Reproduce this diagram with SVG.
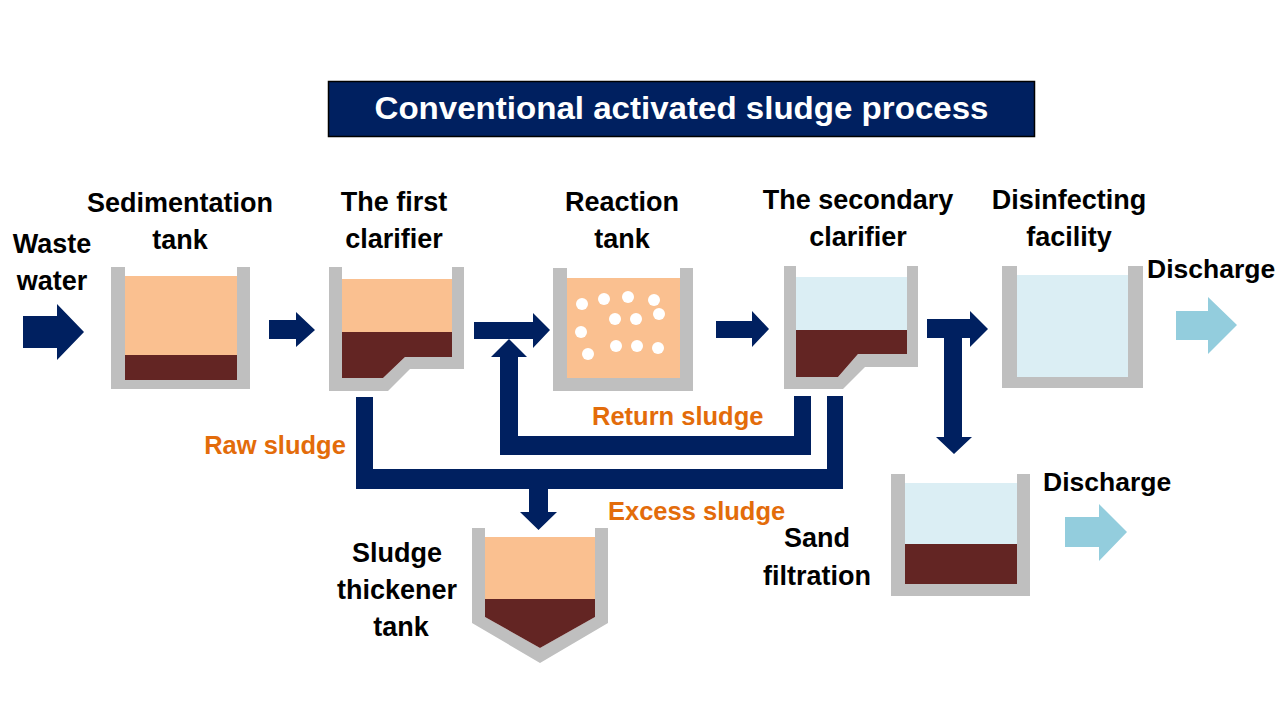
<svg xmlns="http://www.w3.org/2000/svg" width="1280" height="720" viewBox="0 0 1280 720">
<style>
.lbl{font-family:"Liberation Sans",Arial,sans-serif;font-weight:bold;font-size:27px;fill:#000;text-anchor:middle}
.blk{font-family:"Liberation Sans",Arial,sans-serif;font-weight:bold;font-size:26.5px;fill:#000}
.org{font-family:"Liberation Sans",Arial,sans-serif;font-weight:bold;font-size:25.5px;fill:#e36c0a}
.wall{fill:#bfbfbf}
.peach{fill:#fac090}
.mud{fill:#632523}
.water{fill:#dbeef4}
.navy{fill:#002060}
.out{fill:#93cddd}
.bub{fill:#fff}
</style>
<rect width="1280" height="720" fill="#fff"/>
<g id="title">
<rect x="328.5" y="81.5" width="706" height="55" fill="#002060" stroke="#000" stroke-width="1.5"/>
<text x="681.5" y="119" style="font-family:'Liberation Sans',Arial,sans-serif;font-weight:bold;font-size:31px;fill:#fff" text-anchor="middle" textLength="614" lengthAdjust="spacingAndGlyphs">Conventional activated sludge process</text>
</g>
<g id="waste-water">
<text class="lbl" x="52" y="253">Waste</text>
<text class="lbl" x="52" y="290">water</text>
</g>
<g id="sedimentation-tank">
<text class="lbl" x="180" y="212">Sedimentation</text>
<text class="lbl" x="180" y="249">tank</text>
<path class="wall" d="M111,267H125V380H237V267H250V389H111Z"/>
<rect class="peach" x="125" y="276" width="112" height="79"/>
<rect class="mud" x="125" y="355" width="112" height="25"/>
</g>
<g id="first-clarifier">
<text class="lbl" x="394" y="211">The first</text>
<text class="lbl" x="394" y="248">clarifier</text>
<path class="wall" d="M329,267H342V378H383L405,357H452V267H464V369H410L388,391H329Z"/>
<rect class="peach" x="342" y="279" width="110" height="53"/>
<path class="mud" d="M342,332H452V357H405L383,378H342Z"/>
</g>
<g id="reaction-tank">
<text class="lbl" x="622" y="211">Reaction</text>
<text class="lbl" x="622" y="248">tank</text>
<path class="wall" d="M553,268H567V378H680V268H693V391H553Z"/>
<rect class="peach" x="567" y="278" width="113" height="100"/>
<circle class="bub" cx="582" cy="304" r="6"/>
<circle class="bub" cx="604" cy="299" r="6"/>
<circle class="bub" cx="628" cy="297" r="6"/>
<circle class="bub" cx="654" cy="300" r="6"/>
<circle class="bub" cx="659" cy="314" r="6"/>
<circle class="bub" cx="636" cy="319" r="6"/>
<circle class="bub" cx="615" cy="319" r="6"/>
<circle class="bub" cx="581" cy="332" r="6"/>
<circle class="bub" cx="588" cy="354" r="6"/>
<circle class="bub" cx="616" cy="346" r="6"/>
<circle class="bub" cx="637" cy="346" r="6"/>
<circle class="bub" cx="658" cy="348" r="6"/>
</g>
<g id="secondary-clarifier">
<text class="lbl" x="858" y="209">The secondary</text>
<text class="lbl" x="858" y="246">clarifier</text>
<path class="wall" d="M784,266H796V377H838L858,354H907V266H918V367H865L843,389H784Z"/>
<rect class="water" x="796" y="277" width="111" height="53"/>
<path class="mud" d="M796,330H907V354H858L838,377H796Z"/>
</g>
<g id="disinfecting-facility">
<text class="lbl" x="1069" y="209">Disinfecting</text>
<text class="lbl" x="1069" y="246">facility</text>
<path class="wall" d="M1002,266H1017V377H1128V266H1143V388H1002Z"/>
<rect class="water" x="1017" y="275" width="111" height="102"/>
</g>
<g id="discharge-1">
<text class="blk" x="1147" y="278">Discharge</text>
<path class="out" d="M1176,311H1208V297L1237,325L1208,354V340H1176Z"/>
</g>
<g id="sludge-thickener-tank">
<text class="lbl" x="397" y="562">Sludge</text>
<text class="lbl" x="397" y="599">thickener</text>
<text class="lbl" x="401" y="636">tank</text>
<path class="wall" d="M472,528H485V617L540,648L595,617V528H608V623L540,663L472,623Z"/>
<rect class="peach" x="485" y="537" width="110" height="62"/>
<path class="mud" d="M485,599H595V617L540,648L485,617Z"/>
</g>
<g id="sand-filtration">
<text class="lbl" x="817" y="547">Sand</text>
<text class="lbl" x="817" y="585">filtration</text>
<path class="wall" d="M891,474H905V584H1017V474H1030V596H891Z"/>
<rect class="water" x="905" y="483" width="112" height="61"/>
<rect class="mud" x="905" y="544" width="112" height="40"/>
</g>
<g id="discharge-2">
<text class="blk" x="1043" y="491">Discharge</text>
<path class="out" d="M1065,517H1099V504L1127,532L1099,561V547H1065Z"/>
</g>
<g id="connectors">
<path class="navy" d="M23,316H57V304L84,332L57,360V348H23Z"/>
<path class="navy" d="M269,320H296V312L315,330L296,347V339H269Z"/>
<path class="navy" d="M474,322H533V313L550,330L533,348V339H474Z"/>
<path class="navy" d="M716,321H752V311L769,329L752,347V338H716Z"/>
<path class="navy" d="M500,357H491L509,339L527,357H518V436H794V396H811V455H500Z"/>
<path class="navy" d="M356,397H373V469H827V396H843V489H548V512H557L538.5,530L520,512H529V489H356Z"/>
<path class="navy" d="M927,319H970V311L988,329L970,347V338H962V437H972L954,454L936,437H944V338H927Z"/>
</g>
<g id="labels">
<text class="org" x="275" y="454" text-anchor="middle">Raw sludge</text>
<text class="org" x="592" y="425">Return sludge</text>
<text class="org" x="608" y="520">Excess sludge</text>
</g>
</svg>
